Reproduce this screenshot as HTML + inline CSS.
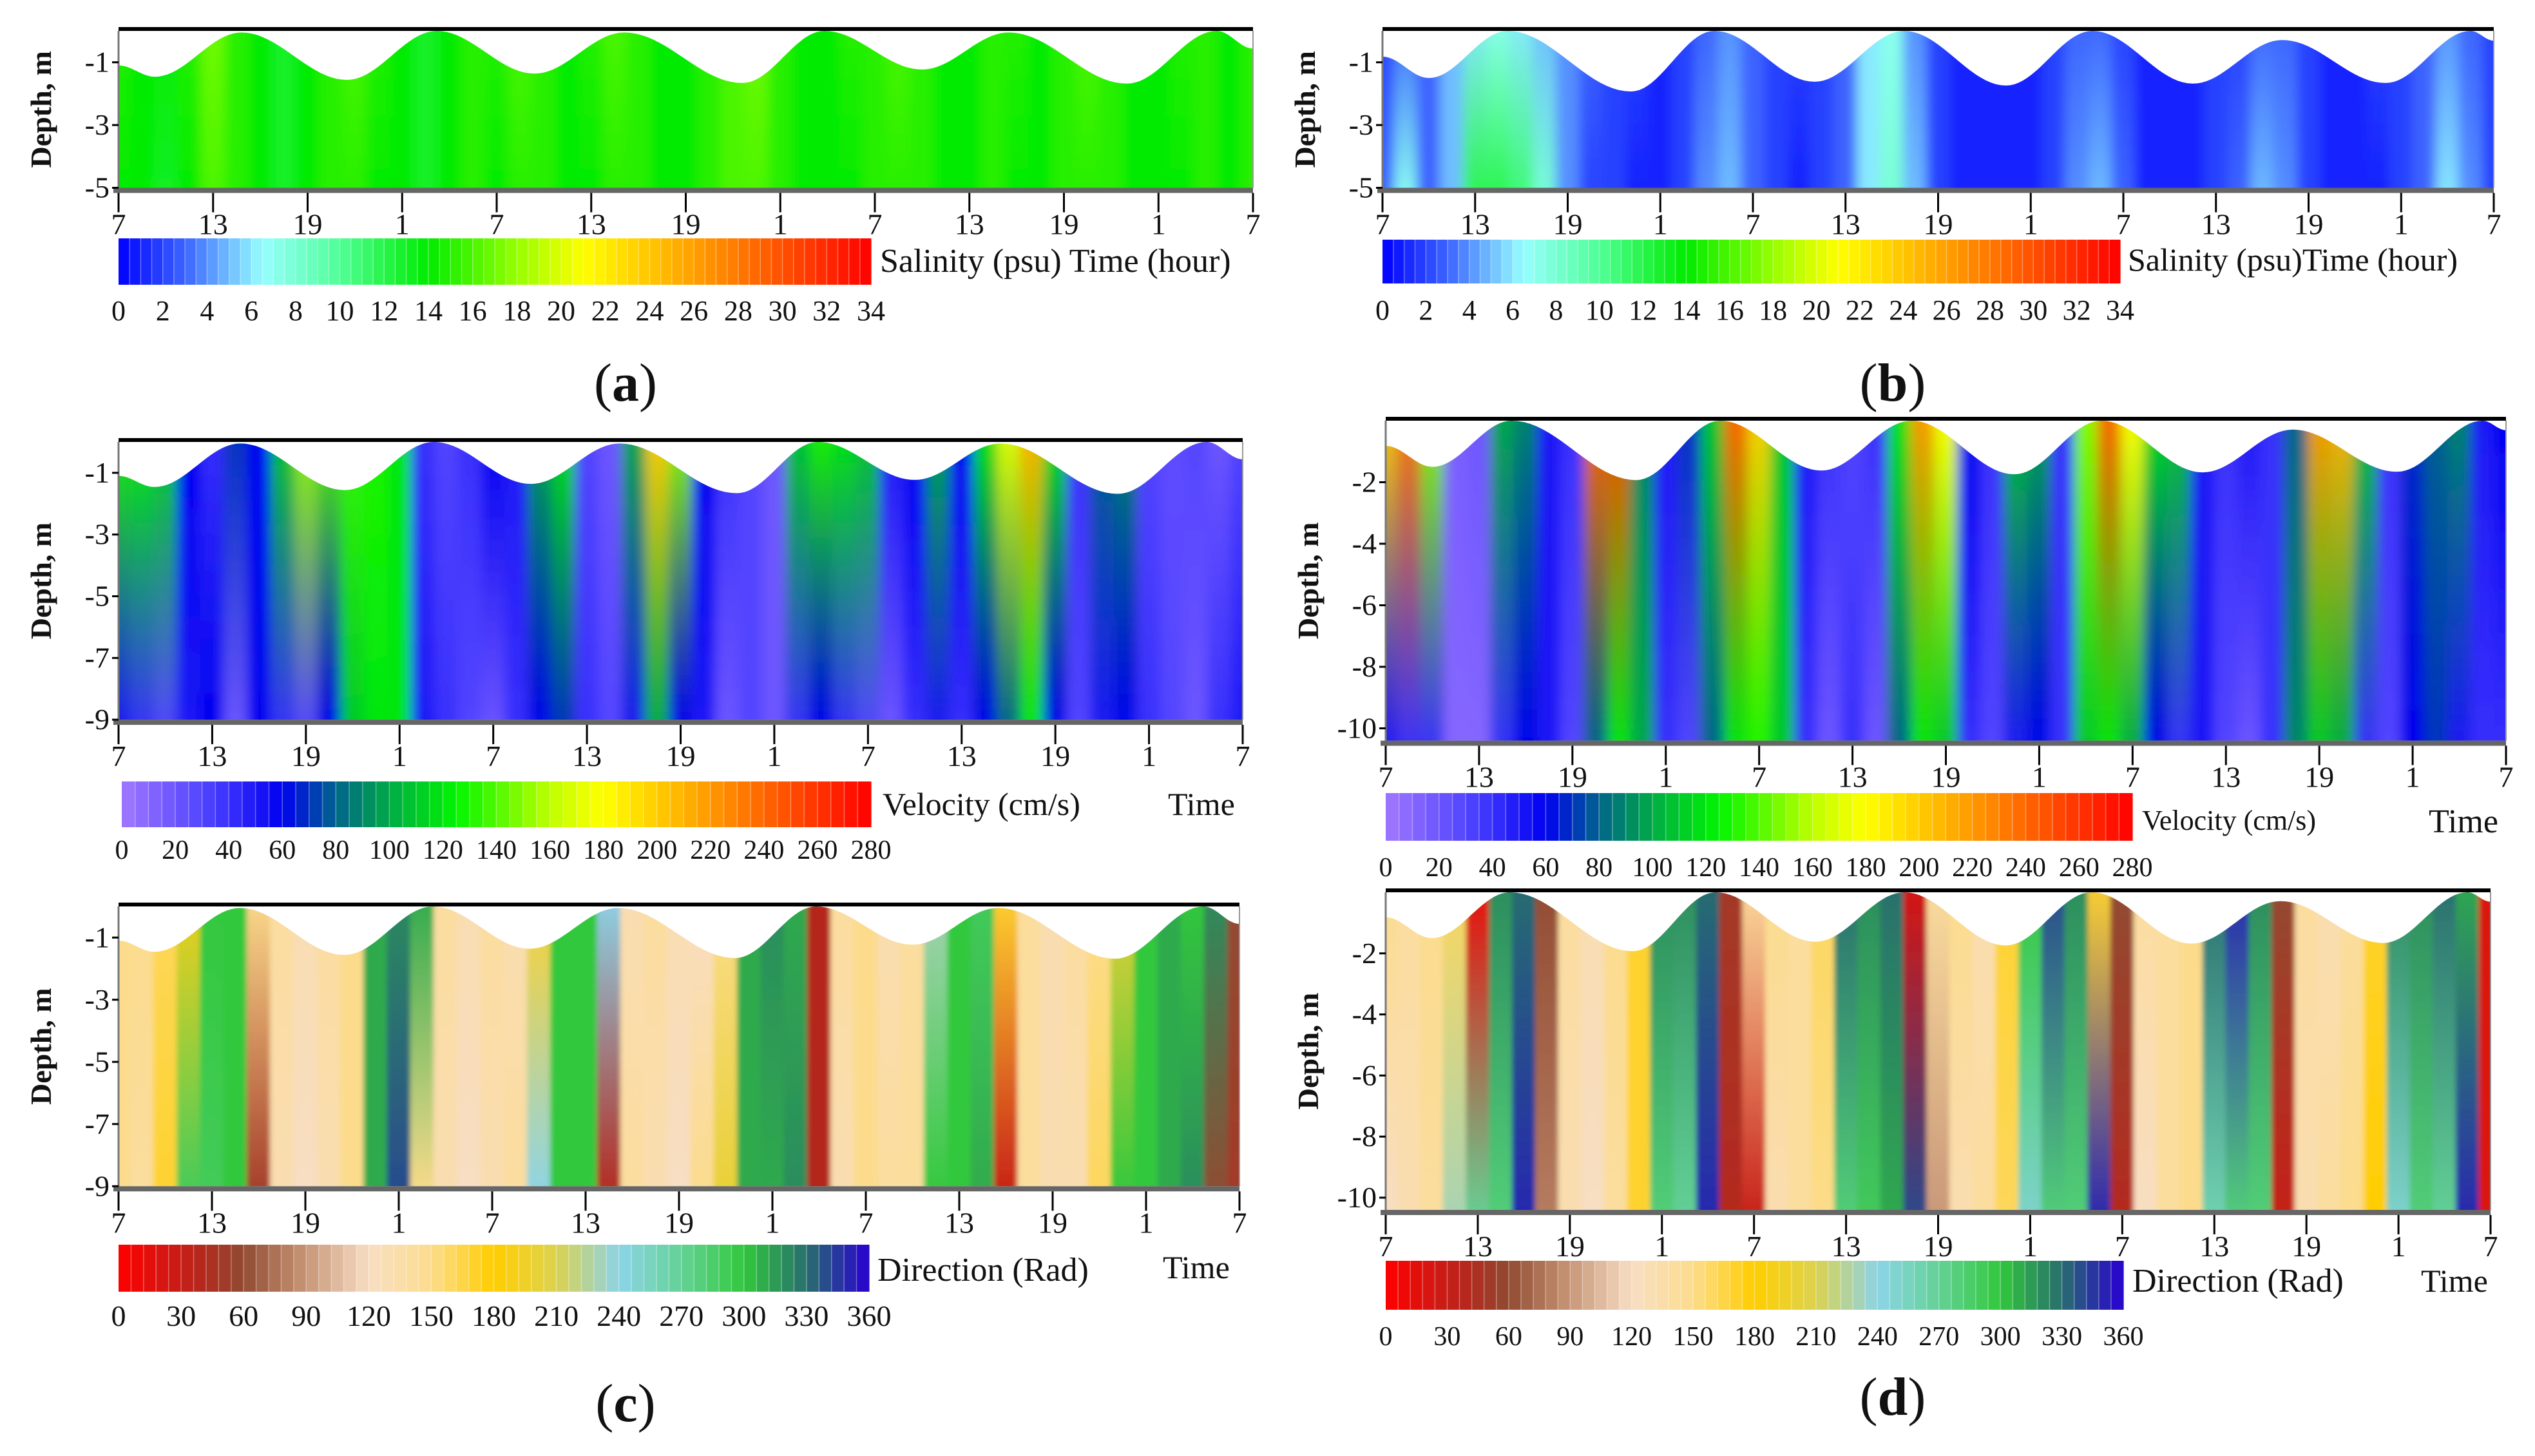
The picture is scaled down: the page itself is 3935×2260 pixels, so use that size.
<!DOCTYPE html>
<html><head><meta charset="utf-8">
<style>
html,body{margin:0;padding:0;background:#fff;}
svg{display:block;}
svg text{font-family:"Liberation Serif","DejaVu Serif","Times New Roman",serif !important;}
</style></head>
<body>
<svg id="fig" width="3935" height="2260" viewBox="0 0 3935 2260" xmlns="http://www.w3.org/2000/svg">
<defs id="defs">
<filter id="blurX" x="-0.02" y="0" width="1.04" height="1"><feGaussianBlur stdDeviation="9 3"/></filter>
<filter id="blurS" x="-0.02" y="0" width="1.04" height="1"><feGaussianBlur stdDeviation="4 2"/></filter>
</defs>
</svg>
<script>
// ---------- data ----------
const hourTickLabels = ["7","13","19","1","7","13","19","1","7","13","19","1","7"];
const colHours = []; for (let i = 0; i <= 48; i++) colHours.push(i * 1.5);

const surfLeftHours = [0, 2.3, 7.8, 14.5, 20.2, 26.4, 32.1, 39.6, 44.8, 51, 56.5, 64, 69.7, 72];
const surfLeftDepth = [-1.1, -1.46, -0.05, -1.56, 0, -1.36, -0.05, -1.66, 0, -1.23, -0.05, -1.68, 0, -0.56];
const surfRightHours = [0, 3, 8.1, 16.1, 21.5, 28, 33.8, 40.4, 46, 52.5, 58.3, 65, 70.5, 72];
const surfRightDepth = [-0.82, -1.5, 0, -1.93, 0, -1.62, 0, -1.74, 0, -1.68, -0.29, -1.66, 0, -0.31];

const salA_top = [15,14,14,15,17,15,14,13,14,15,16,15,14,13,14,15,15,16,15,14,15,16,15,14,14,15,16,17,15,14,14,15,15,16,15,14,14,15,15,14,15,16,15,14,14,15,15,14,15];
const salA_bot = [14,14,13,14,16,15,14,13,14,15,15,14,14,13,14,15,14,15,15,14,14,15,15,14,14,15,16,16,15,14,14,14,15,15,15,14,14,15,14,14,15,15,15,14,14,14,15,14,15];
const salB_top = [2,3,3,5,6,7,6,5,4,3,2,2,1,2,3,4,3,2,2,2,3,6,7,4,2,1,1,1,1,2,3,3,2,1,1,1,2,2,3,3,2,1,1,2,2,3,4,3,2];
const salB_bot = [3,7,3,5,12,12,11,8,4,2,2,1,1,2,4,5,3,2,1,2,3,6,8,5,2,1,1,1,1,2,4,5,3,1,1,1,2,3,5,4,2,1,1,1,2,3,6,4,2];

const velC_top = [130,125,115,60,40,70,60,110,150,140,135,130,120,40,30,40,60,50,100,120,30,20,100,200,150,60,40,30,20,110,130,120,110,50,60,100,60,120,170,210,120,40,80,90,30,25,30,20,30];
const velC_bot = [50,40,30,50,60,20,60,40,30,60,110,120,120,50,40,30,20,40,60,70,40,30,50,100,60,50,20,30,20,40,60,40,30,20,40,50,40,60,80,120,60,30,50,60,40,30,20,40,50];
const velD_top = [200,230,150,15,20,100,90,50,40,240,250,90,50,70,110,240,200,110,50,40,30,40,120,220,180,60,40,110,100,40,150,240,180,120,110,50,40,50,40,80,220,210,110,40,70,80,90,50,60];
const velD_bot = [50,40,40,10,10,40,60,50,30,80,120,100,40,30,80,120,130,110,40,20,40,20,80,120,110,40,30,50,60,40,110,120,100,60,40,50,30,20,40,90,110,100,40,30,60,70,50,40,40];

const dirC_top = [150,150,160,190,300,300,150,140,130,140,150,310,320,310,140,130,140,130,170,300,300,240,130,140,130,120,150,310,320,310,40,140,150,130,140,230,300,290,170,140,130,140,150,200,300,310,300,320,60];
const dirC_bot = [150,140,170,290,290,300,50,130,120,130,150,310,340,150,130,120,130,140,240,300,300,40,140,130,120,150,200,310,310,320,40,130,150,140,140,300,300,310,30,140,130,130,160,300,300,310,320,60,50];
const dirD_top = [150,140,150,160,10,320,330,60,140,130,150,170,320,320,330,50,140,150,140,160,330,320,330,20,140,150,130,170,300,340,320,170,60,140,140,150,330,350,320,60,140,130,140,170,320,320,330,310,20];
const dirD_bot = [120,130,140,230,270,280,350,80,130,120,140,170,280,270,350,40,30,130,140,150,280,290,310,340,90,130,140,160,250,280,280,350,40,120,140,150,260,280,280,30,130,140,150,180,250,280,270,350,20];

const salTicks = [0,2,4,6,8,10,12,14,16,18,20,22,24,26,28,30,32,34];
const velTicks = [0,20,40,60,80,100,120,140,160,180,200,220,240,260,280];
const dirTicks = [0,30,60,90,120,150,180,210,240,270,300,330,360];

// ---------- colormaps ----------
const CM_SAL = [[0,[0,0,255]],[3,[60,100,255]],[6.5,[150,255,255]],[10,[80,255,150]],[14,[0,235,0]],[18,[150,255,0]],[21,[255,255,0]],[27,[255,140,0]],[34,[255,0,0]]];
const CM_VEL = [[0,[160,120,255]],[35,[70,60,255]],[60,[0,0,240]],[80,[0,100,140]],[100,[0,170,70]],[125,[0,245,0]],[160,[190,255,0]],[180,[255,255,0]],[225,[255,140,0]],[280,[255,0,0]]];
const CM_DIR = [[0,[255,0,0]],[40,[180,40,30]],[60,[145,75,50]],[90,[200,150,120]],[120,[248,222,195]],[150,[252,220,140]],[180,[255,205,0]],[210,[220,210,80]],[240,[140,212,232]],[270,[100,210,150]],[300,[50,200,60]],[330,[40,110,110]],[360,[40,0,210]]];
function cmap(cm, v){
  if (v <= cm[0][0]) return rgb(cm[0][1]);
  for (let i = 1; i < cm.length; i++){
    if (v <= cm[i][0]){
      const t = (v - cm[i-1][0]) / (cm[i][0] - cm[i-1][0]);
      const a = cm[i-1][1], b = cm[i][1];
      return rgb([a[0]+(b[0]-a[0])*t, a[1]+(b[1]-a[1])*t, a[2]+(b[2]-a[2])*t]);
    }
  }
  return rgb(cm[cm.length-1][1]);
}
function rgb(c){return 'rgb('+Math.round(c[0])+','+Math.round(c[1])+','+Math.round(c[2])+')';}

const NS = 'http://www.w3.org/2000/svg';
const svg = document.getElementById('fig');
const defs = document.getElementById('defs');
function mk(tag, attrs, parent){
  const e = document.createElementNS(NS, tag);
  for (const k in attrs) e.setAttribute(k, attrs[k]);
  (parent || svg).appendChild(e);
  return e;
}
function txt(x, y, s, size, anchor, parent, extra){
  const t = mk('text', Object.assign({x:x, y:y, 'font-size':size, 'text-anchor':anchor||'start', fill:'#111'}, extra||{}), parent);
  t.style.fontFamily = '"Liberation Serif", "DejaVu Serif", serif';
  t.textContent = s;
  return t;
}

let gid = 0;
function panel(c){
  const g = mk('g', {});
  
  
  const xs = h => c.x0 + (c.x1 - c.x0) * h / 72;
  const ys = d => c.y0 - d * c.ppm;
  const yb = ys(-c.maxD);
  const cid = 'clip' + (gid++);
  const cp = mk('clipPath', {id: cid}, defs);
  let pts = [];
  for (let i = 0; i < c.sh.length - 1; i++){
    for (let k = 0; k < 20; k++){
      const t = k / 20, s = (1 - Math.cos(Math.PI * t)) / 2;
      const h = c.sh[i] + (c.sh[i+1] - c.sh[i]) * t;
      const d = c.sd[i] + (c.sd[i+1] - c.sd[i]) * s;
      pts.push(xs(h).toFixed(1) + ',' + ys(d).toFixed(1));
    }
  }
  pts.push(xs(72) + ',' + ys(c.sd[c.sd.length-1]).toFixed(1));
  pts.push(xs(72) + ',' + yb, xs(0) + ',' + yb);
  mk('polygon', {points: pts.join(' ')}, cp);
  const outer = mk('g', {'clip-path': 'url(#' + cid + ')'}, g);
  const field = mk('g', {filter: c.sharp ? 'url(#blurS)' : 'url(#blurX)'}, outer);
  
  
  const w = (c.x1 - c.x0) * 1.5 / 72;
  for (let i = 0; i < colHours.length; i++){
    const gr = 'gr' + (gid++);
    const lg = mk('linearGradient', {id: gr, x1: 0, y1: 0, x2: 0, y2: 1}, defs);
    mk('stop', {offset: '0', 'stop-color': cmap(c.cm, c.top[i])}, lg);
    mk('stop', {offset: '1', 'stop-color': cmap(c.cm, c.bot[i])}, lg);
    const r = mk('rect', {x: xs(colHours[i]) - w/2 - 0.5, y: c.y0 - 20, width: w + 1, height: yb - c.y0 + 40, fill: 'url(#' + gr + ')'}, field);
    
    
  }
  mk('line', {x1: c.x0, y1: c.y0 - 3, x2: c.x1, y2: c.y0 - 3, stroke: '#000', 'stroke-width': 6}, g);
  mk('line', {x1: c.x0, y1: c.y0, x2: c.x0, y2: yb + 4, stroke: '#777', 'stroke-width': 3}, g);
  mk('line', {x1: c.x1, y1: c.y0, x2: c.x1, y2: yb, stroke: '#999', 'stroke-width': 2}, g);
  mk('line', {x1: c.x0 - 8, y1: yb + 4, x2: c.x1, y2: yb + 4, stroke: '#666', 'stroke-width': 8}, g);
  for (const d of c.yt){
    mk('line', {x1: c.x0 - 10, y1: ys(d), x2: c.x0, y2: ys(d), stroke: '#000', 'stroke-width': 3}, g);
    const t = txt(c.x0 - 14, ys(d) + 15, String(d), 46, 'end', g);
    
    
  }
  const yt = txt(0, 0, 'Depth, m', 46, 'middle', g, {transform: 'translate(' + (c.x0 - 105) + ',' + ((c.y0 + yb) / 2) + ') rotate(-90)', 'font-weight': 'bold'});
  
  
  for (let i = 0; i < hourTickLabels.length; i++){
    const x = xs(i * 6);
    mk('line', {x1: x, y1: yb + 8, x2: x, y2: yb + 38, stroke: '#000', 'stroke-width': 3}, g);
    const t = txt(x, yb + 72, hourTickLabels[i], 46, 'middle', g);
    
    
  }
  const cb = mk('g', {}, g);
  
  
  const n = c.cbN, vmax = c.ticks[c.ticks.length - 1];
  const cw = (c.cb[1] - c.cb[0]) / n;
  for (let i = 0; i < n; i++){
    mk('rect', {x: c.cb[0] + i * cw, y: c.cb[2], width: cw + 0.6, height: c.cb[3] - c.cb[2], fill: cmap(c.cm, (i + 0.5) * vmax / n)}, cb);
    if (i > 0) mk('line', {x1: c.cb[0] + i * cw, y1: c.cb[2], x2: c.cb[0] + i * cw, y2: c.cb[3], stroke: 'rgba(255,255,255,0.35)', 'stroke-width': 1.5}, cb);
  }
  for (const v of c.ticks){
    const t = txt(c.cb[0] + (c.cb[1] - c.cb[0]) * v / vmax, c.cbLy, String(v), c.cbFs, 'middle', cb);
    
    
  }
  for (const L of c.labels){
    const t = txt(L[0], L[1], L[2], L[3], 'start', g);
    
    
  }
}

panel({name:'salinity-panel-a', x0:184, x1:1945, y0:48, ppm:48.7, maxD:5, yt:[-1,-3,-5],
  sh:surfLeftHours, sd:surfLeftDepth, top:salA_top, bot:salA_bot, cm:CM_SAL,
  cb:[184,1352,370,442], cbN:68, ticks:salTicks, cbLy:497, cbFs:44,
  labels:[[1366,422,'Salinity (psu) Time (hour)',52,'colorbar-title']]});
panel({name:'salinity-panel-b', x0:2146, x1:3871, y0:48, ppm:48.7, maxD:5, yt:[-1,-3,-5],
  sh:surfRightHours, sd:surfRightDepth, top:salB_top, bot:salB_bot, cm:CM_SAL,
  cb:[2146,3291,372,440], cbN:68, ticks:salTicks, cbLy:496, cbFs:44,
  labels:[[3303,420,'Salinity (psu)Time (hour)',50,'colorbar-title']]});
panel({name:'velocity-panel-c', x0:184, x1:1929, y0:686, ppm:47.9, maxD:9, yt:[-1,-3,-5,-7,-9],
  sh:surfLeftHours, sd:surfLeftDepth, top:velC_top, bot:velC_bot, cm:CM_VEL,
  cb:[189,1352,1213,1284], cbN:56, ticks:velTicks, cbLy:1333, cbFs:42,
  labels:[[1370,1265,'Velocity (cm/s)',50,'colorbar-title'],[1813,1265,'Time',50,'x-axis-title']]});
panel({name:'velocity-panel-d', x0:2151, x1:3890, y0:653, ppm:47.75, maxD:10.4, yt:[-2,-4,-6,-8,-10],
  sh:surfRightHours, sd:surfRightDepth, top:velD_top, bot:velD_bot, cm:CM_VEL,
  cb:[2151,3310,1231,1305], cbN:56, ticks:velTicks, cbLy:1360, cbFs:42,
  labels:[[3325,1288,'Velocity (cm/s)',44,'colorbar-title'],[3770,1292,'Time',52,'x-axis-title']]});
panel({name:'direction-panel-c', x0:184, x1:1924, y0:1407, ppm:48.25, maxD:9, yt:[-1,-3,-5,-7,-9], sharp:true,
  sh:surfLeftHours, sd:surfLeftDepth, top:dirC_top, bot:dirC_bot, cm:CM_DIR,
  cb:[184,1349,1932,2005], cbN:60, ticks:dirTicks, cbLy:2058, cbFs:46,
  labels:[[1362,1988,'Direction (Rad)',52,'colorbar-title'],[1805,1984,'Time',50,'x-axis-title']]});
panel({name:'direction-panel-d', x0:2151, x1:3866, y0:1385, ppm:47.4, maxD:10.4, yt:[-2,-4,-6,-8,-10], sharp:true,
  sh:surfRightHours, sd:surfRightDepth, top:dirD_top, bot:dirD_bot, cm:CM_DIR,
  cb:[2151,3296,1957,2033], cbN:60, ticks:dirTicks, cbLy:2088, cbFs:42,
  labels:[[3310,2005,'Direction (Rad)',52,'colorbar-title'],[3758,2005,'Time',50,'x-axis-title']]});

const panelLetters = [[971,622,'(a)'],[2938,622,'(b)'],[971,2206,'(c)'],[2938,2196,'(d)']];
for (const p of panelLetters){
  const t = txt(p[0], p[1], '', 84, 'middle');
  t.appendChild(document.createTextNode('('));
  const ts = mk('tspan', {'font-weight':'bold'}, t);
  ts.textContent = p[2][1];
  t.appendChild(document.createTextNode(')'));
  
  
}
</script>
</body></html>
